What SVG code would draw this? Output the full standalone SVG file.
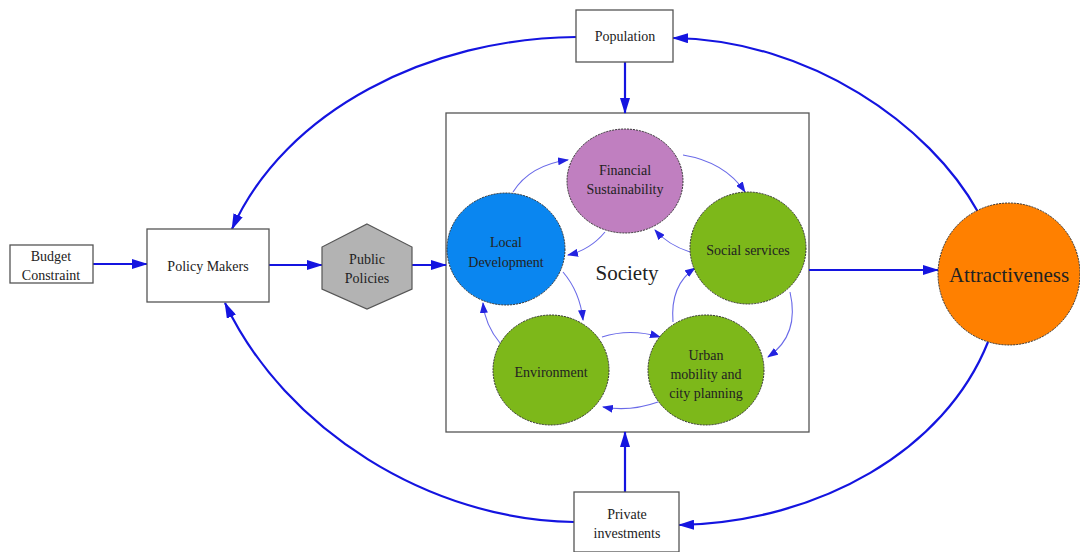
<svg xmlns="http://www.w3.org/2000/svg" width="1080" height="552" viewBox="0 0 1080 552">
<style>
text{font-family:"Liberation Serif","Times New Roman",serif;fill:#222;text-anchor:middle}
.lbl{font-size:14px}
.big{font-size:21px}
.box{fill:#fff;stroke:#555;stroke-width:1.3}
.circ{stroke:#333;stroke-width:1;stroke-dasharray:2 1}
.outer{fill:none;stroke:#1414e0;stroke-width:2.2}
.inner{fill:none;stroke:#6a6ae8;stroke-width:1.1}
</style>
<defs>
<marker id="ah" markerUnits="userSpaceOnUse" markerWidth="16" markerHeight="10" refX="15" refY="5" orient="auto"><path d="M0,0 L16,5 L0,10 Z" fill="#1414e0"/></marker>
<marker id="ai" markerUnits="userSpaceOnUse" markerWidth="11" markerHeight="8" refX="10" refY="4" orient="auto"><path d="M0,0 L11,4 L0,8 Z" fill="#2222e0"/></marker>
</defs>
<rect width="1080" height="552" fill="#fff"/>
<g id="society-box"><rect class="box" x="446" y="113" width="363" height="319"/><text class="big" x="627" y="280">Society</text></g>
<g id="connectors">
<path class="outer" d="M93,264 L147,264" marker-end="url(#ah)"/>
<path class="outer" d="M269,265 L322,265" marker-end="url(#ah)"/>
<path class="outer" d="M412,265 L446,265" marker-end="url(#ah)"/>
<path class="outer" d="M809,270 L938,270" marker-end="url(#ah)"/>
<path class="outer" d="M625,62 L625,113" marker-end="url(#ah)"/>
<path class="outer" d="M625,492 L625,432" marker-end="url(#ah)"/>
<path class="outer" d="M576,37 C430,38 285,110 232,229" marker-end="url(#ah)"/>
<path class="outer" d="M978,212 C930,125 810,40 673,38" marker-end="url(#ah)"/>
<path class="outer" d="M988,342 C945,450 820,522 679,525" marker-end="url(#ah)"/>
<path class="outer" d="M574,522 C430,520 285,430 225,303" marker-end="url(#ah)"/>
<path class="inner" d="M513,192 Q530,165 568,160" marker-end="url(#ai)"/>
<path class="inner" d="M683,155 Q725,162 745,192" marker-end="url(#ai)"/>
<path class="inner" d="M690,252 Q668,245 655,230" marker-end="url(#ai)"/>
<path class="inner" d="M605,232 Q590,250 568,255" marker-end="url(#ai)"/>
<path class="inner" d="M790,292 Q800,335 768,357" marker-end="url(#ai)"/>
<path class="inner" d="M673,322 Q670,285 695,268" marker-end="url(#ai)"/>
<path class="inner" d="M563,272 Q580,292 583,320" marker-end="url(#ai)"/>
<path class="inner" d="M500,343 Q485,325 483,303" marker-end="url(#ai)"/>
<path class="inner" d="M602,337 Q630,328 660,337" marker-end="url(#ai)"/>
<path class="inner" d="M658,402 Q630,412 603,407" marker-end="url(#ai)"/>
</g>
<g id="budget"><rect class="box" x="10" y="245" width="83" height="38"/><text class="lbl" x="51" y="261">Budget</text><text class="lbl" x="51" y="280">Constraint</text></g>
<g id="policy-makers"><rect class="box" x="147" y="229" width="122" height="73"/><text class="lbl" x="208" y="271">Policy Makers</text></g>
<g id="public-policies"><polygon points="367,224 412,247 412,289 367,309 322,289 322,247" fill="#b3b3b3" stroke="#555" stroke-width="1.2"/><text class="lbl" x="367" y="264">Public</text><text class="lbl" x="367" y="283">Policies</text></g>
<g id="population"><rect class="box" x="576" y="10" width="97" height="52"/><text class="lbl" x="625" y="41">Population</text></g>
<g id="private"><rect class="box" x="574" y="492" width="105" height="60"/><text class="lbl" x="627" y="519">Private</text><text class="lbl" x="627" y="538">investments</text></g>
<g id="financial"><ellipse class="circ" cx="625" cy="181" rx="58" ry="52" fill="#c07fc0"/><text class="lbl" x="625" y="175">Financial</text><text class="lbl" x="625" y="194">Sustainability</text></g>
<g id="social"><ellipse class="circ" cx="748" cy="248" rx="58" ry="56" fill="#7db81a"/><text class="lbl" x="748" y="255">Social services</text></g>
<g id="local"><ellipse class="circ" cx="506" cy="249" rx="59" ry="56" fill="#0a86f0"/><text class="lbl" x="506" y="247">Local</text><text class="lbl" x="506" y="267">Development</text></g>
<g id="environment"><ellipse class="circ" cx="551" cy="370" rx="58" ry="55" fill="#7db81a"/><text class="lbl" x="551" y="377">Environment</text></g>
<g id="urban"><ellipse class="circ" cx="706" cy="370" rx="58" ry="55" fill="#7db81a"/><text class="lbl" x="706" y="360">Urban</text><text class="lbl" x="706" y="379">mobility and</text><text class="lbl" x="706" y="398">city planning</text></g>
<g id="attractiveness"><ellipse class="circ" cx="1009" cy="274" rx="71" ry="71" fill="#ff8000"/><text class="big" x="1009" y="282">Attractiveness</text></g>
</svg>
